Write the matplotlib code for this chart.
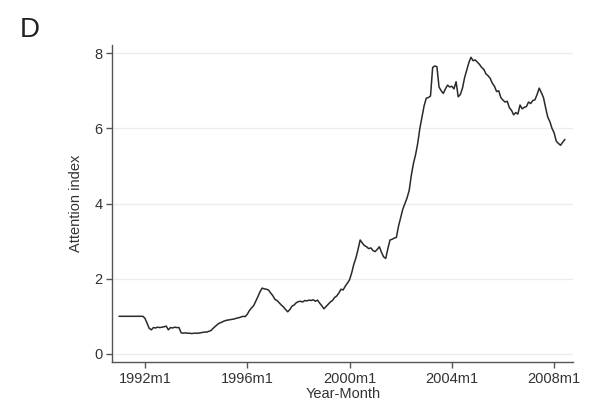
import matplotlib.pyplot as plt
import numpy as np

plt.rcParams['font.family'] = ['Liberation Sans', 'DejaVu Sans']

start_year = 1991
attention = [
    1.00, 1.00, 1.00, 1.00, 1.00, 1.00, 1.00, 1.00, 1.00, 1.00, 1.00, 1.00,  # 1991
    0.95, 0.82, 0.68, 0.64, 0.70, 0.69, 0.71, 0.70, 0.71, 0.72, 0.74, 0.64,  # 1992
    0.70, 0.69, 0.71, 0.70, 0.70, 0.56, 0.55, 0.56, 0.55, 0.55, 0.54, 0.55,  # 1993
    0.55, 0.55, 0.56, 0.57, 0.58, 0.58, 0.60, 0.62, 0.68, 0.73, 0.78, 0.82,  # 1994
    0.84, 0.87, 0.89, 0.90, 0.91, 0.92, 0.93, 0.95, 0.96, 0.98, 1.00, 0.99,  # 1995
    1.05, 1.15, 1.22, 1.28, 1.40, 1.52, 1.65, 1.75, 1.73, 1.72, 1.70, 1.62,  # 1996
    1.55, 1.45, 1.42, 1.36, 1.30, 1.25, 1.18, 1.12, 1.18, 1.27, 1.30, 1.36,  # 1997
    1.39, 1.40, 1.38, 1.42, 1.41, 1.43, 1.42, 1.44, 1.40, 1.43, 1.35, 1.28,  # 1998
    1.20, 1.26, 1.32, 1.38, 1.42, 1.50, 1.54, 1.62, 1.72, 1.70, 1.80, 1.88,  # 1999
    1.97, 2.15, 2.38, 2.55, 2.78, 3.03, 2.95, 2.88, 2.85, 2.80, 2.82, 2.75,  # 2000
    2.72, 2.78, 2.85, 2.70, 2.58, 2.54, 2.80, 3.03, 3.05, 3.08, 3.10, 3.40,  # 2001
    3.62, 3.85, 4.00, 4.15, 4.35, 4.75, 5.07, 5.30, 5.60, 6.00, 6.30, 6.60,  # 2002
    6.80, 6.82, 6.86, 7.62, 7.66, 7.64, 7.10, 7.00, 6.93, 7.05, 7.15, 7.10,  # 2003
    7.12, 7.05, 7.24, 6.84, 6.90, 7.07, 7.35, 7.55, 7.75, 7.89, 7.80, 7.82,  # 2004
    7.76, 7.70, 7.62, 7.57, 7.45, 7.40, 7.33, 7.20, 7.12, 6.98, 7.00, 6.82,  # 2005
    6.75, 6.70, 6.72, 6.55, 6.48, 6.36, 6.42, 6.38, 6.62, 6.52, 6.56, 6.58,  # 2006
    6.70, 6.66, 6.74, 6.76, 6.90, 7.07, 6.95, 6.82, 6.55, 6.30, 6.18, 6.00,  # 2007
    5.88, 5.66, 5.60, 5.55, 5.63, 5.70,                                      # 2008
]
tick_years = [1992, 1996, 2000, 2004, 2008]
y_ticks = [0, 2, 4, 6, 8]

months = np.arange(len(attention))
tick_pos = [(y - start_year) * 12 for y in tick_years]
tick_labels = [f"{y}m1" for y in tick_years]

fig = plt.figure(figsize=(5.89, 4.12), dpi=100)
ax = fig.add_axes([0.191, 0.121, 0.782, 0.770])

ax.plot(months, attention, color='#2a2a2a', lw=1.1)

ax.set_xlim(-3.2, 212.9)
ax.set_ylim(-0.22, 8.22)
ax.set_xticks(tick_pos)
ax.set_xticklabels(tick_labels)
ax.set_yticks(y_ticks)
ax.yaxis.grid(True, color='#ececec', lw=0.9)
ax.set_axisbelow(True)

for s in ['top', 'right']:
    ax.spines[s].set_visible(False)
for s in ['left', 'bottom']:
    ax.spines[s].set_color('#555555')
    ax.spines[s].set_linewidth(1.0)
ax.tick_params(colors='#555555', labelcolor='#333333', labelsize=10.5,
               length=4, width=1.0, pad=3)

ax.set_xlabel('Year-Month', fontsize=10.5, color='#333333', labelpad=1)
ax.set_ylabel('Attention index', fontsize=10.5, color='#333333', labelpad=8)

fig.text(0.034, 0.91, 'D', fontsize=20, color='#222222')

fig.savefig('out.png', dpi=100, facecolor='white')
